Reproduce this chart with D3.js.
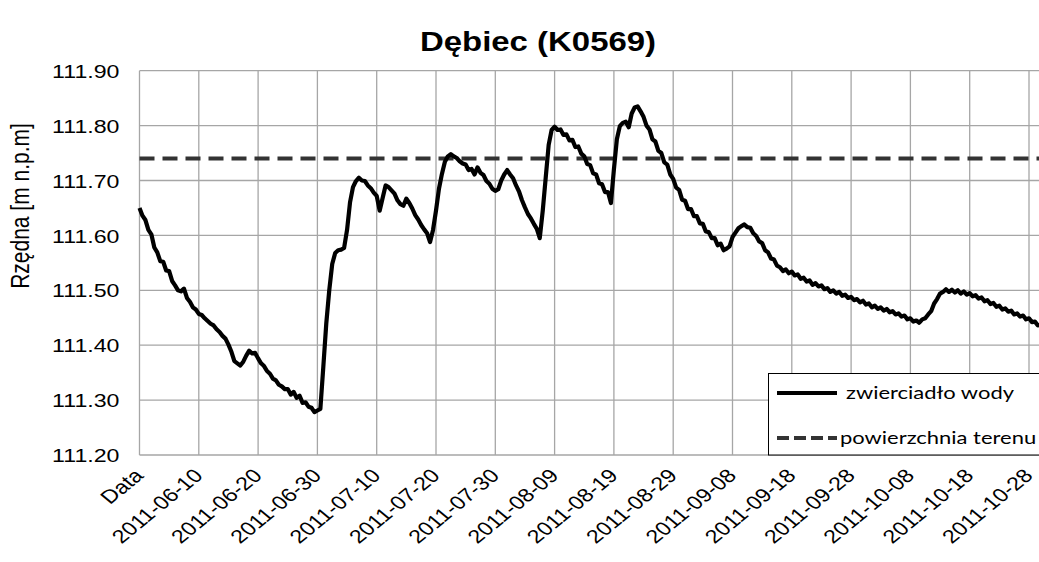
<!DOCTYPE html>
<html>
<head>
<meta charset="utf-8">
<script src="https://cdn.jsdelivr.net/npm/d3@7"></script>
<style>
  body { margin: 0; background: #fff; }
  svg { display: block; }
</style>
</head>
<body>
<svg id="chart" width="1039" height="562"></svg>
<script>
// ---- data -------------------------------------------------------------
const chartTitle = "Dębiec (K0569)";
const yAxisTitle = "Rzędna [m n.p.m]";
const seriesNames = ["zwierciadło wody", "powierzchnia terenu"];

// groundwater level readings, every 12 hours from the first reading
const firstReading = "2011-05-31T00:00";
const readingStepHours = 12;
const waterLevel = [
  111.650, 111.636, 111.628, 111.610, 111.602, 111.578, 111.569, 111.553, 111.552, 111.536,
  111.535, 111.517, 111.509, 111.500, 111.498, 111.503, 111.486, 111.479, 111.469, 111.465,
  111.457, 111.455, 111.449, 111.444, 111.439, 111.436, 111.429, 111.424, 111.417, 111.412,
  111.401, 111.388, 111.371, 111.367, 111.363, 111.370, 111.381, 111.390, 111.385, 111.386,
  111.376, 111.367, 111.362, 111.353, 111.348, 111.339, 111.336, 111.328, 111.325, 111.320,
  111.320, 111.310, 111.315, 111.304, 111.308, 111.295, 111.296, 111.288, 111.286, 111.278,
  111.281, 111.284, 111.361, 111.440, 111.500, 111.548, 111.568, 111.573, 111.574, 111.577,
  111.610, 111.660, 111.688, 111.699, 111.705, 111.700, 111.699, 111.691, 111.686, 111.678,
  111.672, 111.645, 111.668, 111.691, 111.688, 111.682, 111.676, 111.664, 111.657, 111.654,
  111.667, 111.659, 111.649, 111.637, 111.629, 111.619, 111.611, 111.604, 111.588, 111.610,
  111.645, 111.685, 111.712, 111.734, 111.744, 111.748, 111.744, 111.741, 111.735, 111.731,
  111.729, 111.719, 111.721, 111.711, 111.724, 111.714, 111.710, 111.699, 111.694, 111.685,
  111.681, 111.684, 111.700, 111.711, 111.719, 111.711, 111.704, 111.691, 111.680, 111.664,
  111.651, 111.639, 111.631, 111.621, 111.612, 111.595, 111.645, 111.705, 111.765, 111.792,
  111.798, 111.792, 111.793, 111.783, 111.784, 111.773, 111.774, 111.761, 111.762, 111.749,
  111.744, 111.730, 111.728, 111.713, 111.711, 111.695, 111.693, 111.679, 111.679, 111.659,
  111.720, 111.775, 111.799, 111.805, 111.807, 111.797, 111.822, 111.833, 111.835, 111.826,
  111.816, 111.800, 111.793, 111.775, 111.771, 111.754, 111.750, 111.733, 111.729, 111.711,
  111.703, 111.687, 111.683, 111.665, 111.663, 111.648, 111.648, 111.635, 111.635, 111.622,
  111.621, 111.607, 111.606, 111.595, 111.595, 111.582, 111.585, 111.573, 111.576, 111.580,
  111.597, 111.605, 111.613, 111.617, 111.620, 111.615, 111.614, 111.604, 111.599, 111.589,
  111.586, 111.573, 111.569, 111.558, 111.556, 111.545, 111.542, 111.535, 111.538, 111.531,
  111.534, 111.527, 111.529, 111.521, 111.523, 111.516, 111.518, 111.510, 111.513, 111.507,
  111.509, 111.502, 111.504, 111.497, 111.500, 111.494, 111.497, 111.490, 111.492, 111.486,
  111.488, 111.482, 111.484, 111.478, 111.481, 111.474, 111.476, 111.469, 111.472, 111.466,
  111.469, 111.463, 111.466, 111.460, 111.462, 111.456, 111.458, 111.452, 111.454, 111.447,
  111.449, 111.443, 111.445, 111.441, 111.447, 111.449, 111.456, 111.462, 111.476, 111.484,
  111.494, 111.497, 111.502, 111.497, 111.501, 111.496, 111.500, 111.494, 111.498, 111.492,
  111.495, 111.489, 111.491, 111.485, 111.487, 111.480, 111.482, 111.475, 111.477, 111.470,
  111.472, 111.465, 111.467, 111.461, 111.463, 111.456, 111.458, 111.452, 111.454, 111.447,
  111.449, 111.442, 111.443, 111.436, 111.437
];

// ground surface elevation
const groundLevel = 111.74;

const yTicks = [111.20, 111.30, 111.40, 111.50, 111.60, 111.70, 111.80, 111.90];
const xTickDates = ["2011-05-31", "2011-06-10", "2011-06-20", "2011-06-30", "2011-07-10",
  "2011-07-20", "2011-07-30", "2011-08-09", "2011-08-19", "2011-08-29", "2011-09-08",
  "2011-09-18", "2011-09-28", "2011-10-08", "2011-10-18", "2011-10-28"];
const xTickLabels = ["Data", "2011-06-10", "2011-06-20", "2011-06-30", "2011-07-10",
  "2011-07-20", "2011-07-30", "2011-08-09", "2011-08-19", "2011-08-29", "2011-09-08",
  "2011-09-18", "2011-09-28", "2011-10-08", "2011-10-18", "2011-10-28"];

// ---- layout -----------------------------------------------------------
const W = 1039, H = 562;
const plot = { left: 139.5, right: 1029, top: 70.7, bottom: 455, edge: 1060 };
const SX = 1.22;             // horizontal text stretch of the whole figure
const gridColor = "#a6a6a6";
const sansFont = "'Liberation Sans', Arial, sans-serif";
const legendFont = "Lato, 'Open Sans', sans-serif";

const parseDay = d3.timeParse("%Y-%m-%d");
const parseReading = d3.timeParse("%Y-%m-%dT%H:%M");
const t0 = parseReading(firstReading);
const readings = waterLevel.map((v, i) => ({ t: d3.timeHour.offset(t0, i * readingStepHours), v }));
const tickDates = xTickDates.map(parseDay);

const x = d3.scaleTime()
  .domain([tickDates[0], tickDates[tickDates.length - 1]])
  .range([plot.left, plot.right]);
const y = d3.scaleLinear().domain([111.2, 111.9]).range([plot.bottom, plot.top]);
const xEnd = x.invert(plot.edge);

const svg = d3.select("#chart");
svg.append("rect").attr("width", W).attr("height", H).attr("fill", "#fff");

// ---- gridlines ----------------------------------------------------------
const grid = svg.append("g").attr("stroke", gridColor).attr("stroke-width", 1.3);
grid.selectAll("line.h").data(yTicks).join("line")
  .attr("class", "h")
  .attr("x1", plot.left).attr("x2", plot.edge)
  .attr("y1", d => y(d)).attr("y2", d => y(d));
grid.selectAll("line.v").data(tickDates).join("line")
  .attr("class", "v")
  .attr("x1", d => x(d)).attr("x2", d => x(d))
  .attr("y1", plot.top).attr("y2", plot.bottom);

// ---- y axis labels ------------------------------------------------------
const yAxis = d3.axisLeft(y).tickValues(yTicks).tickFormat(d3.format(".2f")).tickSize(0).tickPadding(0);
const yAxisG = svg.append("g").attr("transform", `translate(${plot.left - 20},0)`).call(yAxis);
yAxisG.select(".domain").remove();
yAxisG.selectAll("text")
  .attr("font-family", sansFont).attr("font-size", 19).attr("fill", "#000")
  .attr("x", 0).attr("dy", "0.35em")
  .attr("transform", `scale(${SX},1)`);

// ---- x axis labels ------------------------------------------------------
const xAxis = d3.axisBottom(x).tickValues(tickDates)
  .tickFormat((d, i) => xTickLabels[i]).tickSize(0).tickPadding(0);
const xAxisG = svg.append("g").attr("transform", `translate(0,${plot.bottom})`).call(xAxis);
xAxisG.select(".domain").remove();
xAxisG.selectAll("text")
  .attr("font-family", sansFont).attr("font-size", 19).attr("fill", "#000")
  .attr("text-anchor", "end").attr("x", 0).attr("y", 0).attr("dy", "0.35em")
  .attr("transform", `translate(-1,17) scale(${SX},1) rotate(-45)`);

// ---- series -------------------------------------------------------------
svg.append("line")
  .attr("x1", x(tickDates[0])).attr("x2", x(xEnd))
  .attr("y1", y(groundLevel)).attr("y2", y(groundLevel))
  .attr("stroke", "#333").attr("stroke-width", 4)
  .attr("stroke-dasharray", "15,8");

const line = d3.line().x(d => x(d.t)).y(d => y(d.v));
svg.append("path").datum(readings)
  .attr("d", line)
  .attr("fill", "none").attr("stroke", "#000")
  .attr("stroke-width", 4.2).attr("stroke-linejoin", "round");

// ---- legend -------------------------------------------------------------
const lg = svg.append("g");
lg.append("rect")
  .attr("x", 768.5).attr("y", 373.5).attr("width", 320).attr("height", 81.5)
  .attr("fill", "#fff").attr("stroke", "#000").attr("stroke-width", 1);
const legendRows = [
  { name: seriesNames[0], y: 393, dash: null, color: "#000", tx: 846 },
  { name: seriesNames[1], y: 438, dash: "12,5", color: "#333", tx: 840 }
];
legendRows.forEach(r => {
  lg.append("line")
    .attr("x1", 777).attr("x2", 837).attr("y1", r.y).attr("y2", r.y)
    .attr("stroke", r.color).attr("stroke-width", 4)
    .attr("stroke-dasharray", r.dash);
  lg.append("text")
    .attr("transform", `translate(${r.tx},${r.y}) scale(${SX},1)`)
    .attr("dy", "0.35em")
    .attr("font-family", legendFont).attr("font-size", 18).attr("fill", "#000")
    .text(r.name);
});

// ---- titles -------------------------------------------------------------
svg.append("text")
  .attr("transform", `translate(538,51) scale(${SX},1)`)
  .attr("text-anchor", "middle")
  .attr("font-family", sansFont).attr("font-weight", "bold").attr("font-size", 27)
  .attr("fill", "#000")
  .text(chartTitle);

svg.append("text")
  .attr("transform", `translate(29,206) scale(${SX},1) rotate(-90)`)
  .attr("text-anchor", "middle")
  .attr("font-family", sansFont).attr("font-size", 21).attr("fill", "#000")
  .text(yAxisTitle);
</script>
</body>
</html>
